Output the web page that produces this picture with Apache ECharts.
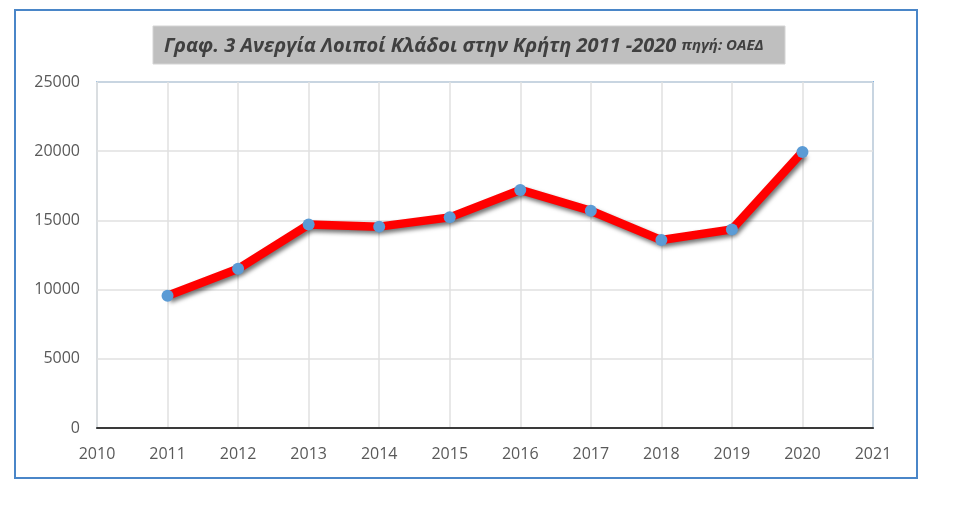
<!DOCTYPE html>
<html>
<head>
<meta charset="utf-8">
<script src="https://cdn.jsdelivr.net/npm/echarts@6/dist/echarts.min.js"></script>
<style>
html, body { margin: 0; padding: 0; background: #fff; }
#chart { width: 980px; height: 507px; }
</style>
</head>
<body>
<div id="chart"></div>
<script>
// έτη και άνεργοι (λοιποί κλάδοι), Κρήτη
var years = [2011, 2012, 2013, 2014, 2015, 2016, 2017, 2018, 2019, 2020];
var unemployed = [9550, 11500, 14700, 14550, 15220, 17200, 15700, 13580, 14350, 19950];
var titleMain = 'Γραφ. 3 Ανεργία Λοιποί Κλάδοι στην Κρήτη 2011 -2020';
var titleSource = 'πηγή: ΟΑΕΔ';

var points = [];
for (var i = 0; i < years.length; i++) {
    points.push([years[i], unemployed[i]]);
}

var myChart = echarts.init(document.getElementById('chart'));
var option = {
    backgroundColor: '#ffffff',
    animation: false,
    graphic: [
        {
            type: 'rect',
            shape: {x: 15, y: 10, width: 902, height: 468},
            style: {fill: 'none', stroke: '#4a86c8', lineWidth: 2},
            z: 0
        },
        {
            type: 'rect',
            shape: {x: 153, y: 26, width: 632, height: 38},
            style: {fill: '#bfbfbf', stroke: '#d4d4d4', lineWidth: 1},
            z: 0
        }
    ],
    title: {
        text: '{a|' + titleMain + '} {b|' + titleSource + '}',
        left: 159,
        top: 31,
        textStyle: {
            rich: {
                a: {
                    fontFamily: 'Open Sans',
                    fontSize: 20,
                    fontWeight: 'bold',
                    fontStyle: 'italic',
                    color: '#404040'
                },
                b: {
                    fontFamily: 'Open Sans',
                    fontSize: 15,
                    fontWeight: 'bold',
                    fontStyle: 'italic',
                    color: '#404040'
                }
            }
        }
    },
    grid: {
        left: 97,
        right: 107,
        top: 82,
        bottom: 79,
        show: true,
        borderColor: '#7fb2e3',
        borderWidth: 2,
        containLabel: false
    },
    xAxis: {
        type: 'value',
        min: 2010,
        max: 2021,
        interval: 1,
        axisLine: {show: true, onZero: false, lineStyle: {color: '#3a3a3a', width: 2}},
        axisTick: {show: false},
        splitLine: {show: true, lineStyle: {color: '#e0e0e0', width: 1.5}},
        axisLabel: {
            color: '#595959',
            fontFamily: 'Open Sans',
            fontSize: 16,
            margin: 18,
            formatter: function (v) { return String(v); }
        }
    },
    yAxis: {
        type: 'value',
        min: 0,
        max: 25000,
        interval: 5000,
        axisLine: {show: true, lineStyle: {color: '#e0e0e0', width: 1.5}},
        axisTick: {show: false},
        splitLine: {show: true, lineStyle: {color: '#e0e0e0', width: 1.5}},
        axisLabel: {
            color: '#595959',
            fontFamily: 'Open Sans',
            fontSize: 16,
            margin: 17,
            formatter: function (v) { return String(v); }
        }
    },
    series: [{
        type: 'line',
        data: points,
        symbol: 'circle',
        symbolSize: 12,
        itemStyle: {color: '#5b9bd5'},
        lineStyle: {
            color: '#ff0000',
            width: 8.5,
            shadowColor: 'rgba(0,0,0,0.55)',
            shadowBlur: 4,
            shadowOffsetX: 2,
            shadowOffsetY: 3
        },
        z: 3
    }]
};
myChart.setOption(option);
</script>
</body>
</html>
